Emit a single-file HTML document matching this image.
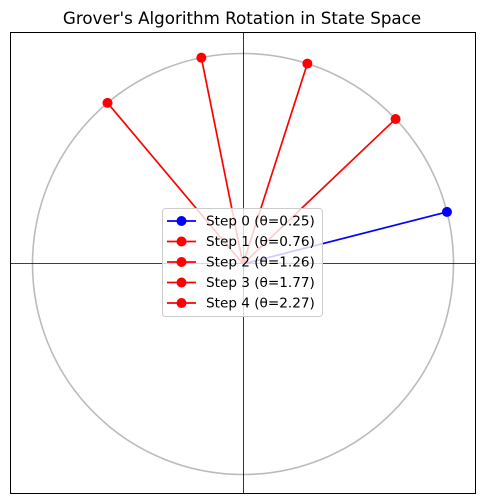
<!DOCTYPE html>
<html><head><meta charset="utf-8"><style>
body{margin:0;background:#fff;}
svg{display:block;font-family:"DejaVu Sans","Liberation Sans",sans-serif;}
</style></head><body>
<svg id="chart" width="484" height="504">
<text x="242" y="24" text-anchor="middle" font-size="16.7">Grover's Algorithm Rotation in State Space</text>
<g id="plot"></g>
</svg>
<script>
const stepLabels = ["Step 0 (θ=0.25)","Step 1 (θ=0.76)","Step 2 (θ=1.26)","Step 3 (θ=1.77)","Step 4 (θ=2.27)"];
const thetas = [0.25,0.76,1.26,1.77,2.27];
const colors = ["blue","red","red","red","red"];
const NS="http://www.w3.org/2000/svg";
const g=document.getElementById('plot');
const cx=243, cy=264, R=210.5;
const sx=v=>cx+v*R, sy=v=>cy-v*R;
function mk(t,a,p){const e=document.createElementNS(NS,t);for(const k in a)e.setAttribute(k,a[k]);(p||g).appendChild(e);return e;}
let e;
e=mk('rect',{x:10.5,y:32.5,width:465,height:461,fill:'none',stroke:'#000','stroke-width':1});


e=mk('circle',{cx:cx,cy:cy,r:R,fill:'none',stroke:'#bbb','stroke-width':1.6});


e=mk('line',{x1:10,y1:263.5,x2:475,y2:263.5,stroke:'#000','stroke-width':0.8});


e=mk('line',{x1:cx+0.5,y1:32,x2:cx+0.5,y2:493,stroke:'#000','stroke-width':0.8});


thetas.forEach((t,i)=>{
  const x=sx(Math.cos(t)), y=sy(Math.sin(t));
  const l=mk('line',{x1:sx(0),y1:sy(0),x2:x,y2:y,stroke:colors[i],'stroke-width':1.7});
  
  
  const c=mk('circle',{cx:x,cy:y,r:5,fill:colors[i]});
  
  
});
const lg=mk('g',{});


mk('rect',{x:162.5,y:208.5,width:160,height:108,rx:3,fill:'rgba(255,255,255,0.8)',stroke:'#ccc'},lg);
stepLabels.forEach((s,i)=>{
  const y=221+i*20.5;
  const le=mk('g',{},lg);
  
  
  mk('line',{x1:167,y1:y,x2:196,y2:y,stroke:colors[i],'stroke-width':1.7},le);
  mk('circle',{cx:181.5,cy:y,r:5,fill:colors[i]},le);
  const tx=mk('text',{x:206,y:y+4.5,'font-size':13.6},le);
  tx.textContent=s;
});
</script>
</body></html>
